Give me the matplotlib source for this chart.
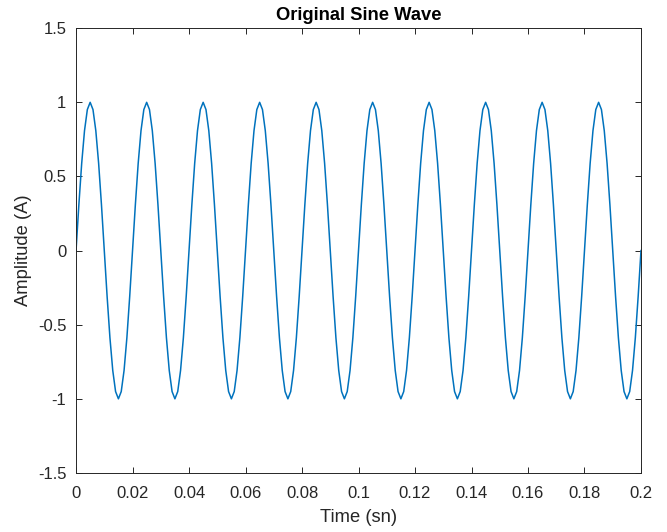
import numpy as np
import matplotlib
matplotlib.use("Agg")
import matplotlib.pyplot as plt

# One period of the 50 Hz signal sampled at 1 kHz (20 samples per cycle)
cycle_values = [0.0, 0.309, 0.588, 0.809, 0.951, 1.0, 0.951, 0.809, 0.588, 0.309,
                0.0, -0.309, -0.588, -0.809, -0.951, -1.0, -0.951, -0.809, -0.588, -0.309]
n_cycles = 10
sample_period = 0.001  # seconds

amplitude = np.concatenate([np.tile(cycle_values, n_cycles), [0.0]])
time = np.arange(len(amplitude)) * sample_period

x_ticks = [0, 0.02, 0.04, 0.06, 0.08, 0.1, 0.12, 0.14, 0.16, 0.18, 0.2]
x_tick_labels = ["0", "0.02", "0.04", "0.06", "0.08", "0.1", "0.12", "0.14", "0.16", "0.18", "0.2"]
y_ticks = [-1.5, -1, -0.5, 0, 0.5, 1, 1.5]
y_tick_labels = ["-1.5", "-1", "-0.5", "0", "0.5", "1", "1.5"]

plt.rcParams["font.family"] = ["Liberation Sans", "DejaVu Sans"]
text_color = "#262626"
axis_color = "#262626"

fig = plt.figure(figsize=(6.67, 5.32), dpi=100)
ax = fig.add_axes([0.114, 0.111, 0.847, 0.836])

ax.plot(time, amplitude, color="#0072BD", linewidth=1.1)

ax.set_xlim(0, 0.2)
ax.set_ylim(-1.5, 1.5)
ax.set_xticks(x_ticks)
ax.set_xticklabels(x_tick_labels)
ax.set_yticks(y_ticks)
ax.set_yticklabels(y_tick_labels)

ax.tick_params(direction="in", length=4, width=0.7, colors=axis_color,
               labelsize=12, top=True, right=True)
ax.tick_params(axis="x", pad=9.5)
ax.tick_params(axis="y", pad=7)
for side in ax.spines.values():
    side.set_color(axis_color)
    side.set_linewidth(0.7)

ax.set_xlabel("Time (sn)", fontsize=13.2, color=text_color, labelpad=5.5)
ax.set_ylabel("Amplitude (A)", fontsize=13.2, color=text_color, labelpad=4)
ax.set_title("Original Sine Wave", fontsize=13.2, fontweight="bold", color="black", pad=6)

fig.savefig("out.png", dpi=100)
